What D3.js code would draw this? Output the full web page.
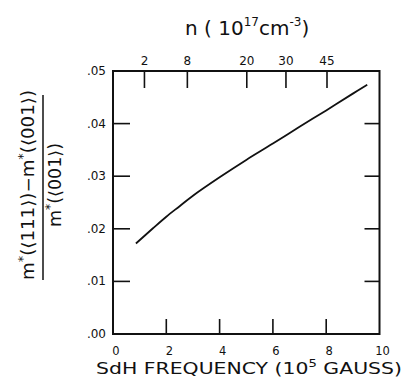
<!DOCTYPE html>
<html lang="en">
<head>
<meta charset="UTF-8">
<title>SdH frequency vs mass anisotropy</title>
<script src="https://cdnjs.cloudflare.com/ajax/libs/d3/7.8.5/d3.min.js"></script>
<style>
  body { margin: 0; background: #fff; }
  text { font-family: "DejaVu Sans", sans-serif; fill: #111; }
</style>
</head>
<body>
<script>
// curve: SdH frequency (10^5 gauss) -> mass ratio
var freq  = [0.86, 1.5, 2.0, 2.5, 3.0, 4.0, 5.0, 6.0, 7.0, 8.0, 9.0, 9.54];
var ratio = [0.0172, 0.0201, 0.0223, 0.0243, 0.0263, 0.0298, 0.0331, 0.0362, 0.0394, 0.0425, 0.0457, 0.0474];

var xTicks = [0, 2, 4, 6, 8, 10];
var yTicks = [0, 0.01, 0.02, 0.03, 0.04, 0.05];
// top axis: carrier density labels and where they sit in frequency units
var nLabels = ["2", "8", "20", "30", "45"];
var nFreq   = [1.18, 2.79, 5.02, 6.49, 8.03];

var W = 404, H = 391;
var svg = d3.select("body").append("svg").attr("width", W).attr("height", H);

var x = d3.scaleLinear().domain([0, 10]).range([113, 379.5]);
var y = d3.scaleLinear().domain([0, 0.05]).range([334, 71]);

var tick = 15;
var ink = "#111";

// frame
svg.append("rect")
  .attr("x", x(0)).attr("y", y(0.05))
  .attr("width", x(10) - x(0)).attr("height", y(0) - y(0.05))
  .attr("fill", "none").attr("stroke", ink).attr("stroke-width", 2);

// inner ticks
var inner = xTicks.filter(function(d){ return d > 0 && d < 10; });
svg.selectAll(".bt").data(inner).enter().append("line")
  .attr("x1", x).attr("x2", x)
  .attr("y1", y(0)).attr("y2", y(0) - tick)
  .attr("stroke", ink).attr("stroke-width", 1.6);

var yin = yTicks.filter(function(d){ return d > 0 && d < 0.05; });
svg.selectAll(".lt").data(yin).enter().append("line")
  .attr("x1", x(0)).attr("x2", x(0) + tick + 2)
  .attr("y1", y).attr("y2", y)
  .attr("stroke", ink).attr("stroke-width", 1.6);
svg.selectAll(".rt").data(yin).enter().append("line")
  .attr("x1", x(10)).attr("x2", x(10) - tick)
  .attr("y1", y).attr("y2", y)
  .attr("stroke", ink).attr("stroke-width", 1.6);

svg.selectAll(".tt").data(nFreq).enter().append("line")
  .attr("x1", x).attr("x2", x)
  .attr("y1", y(0.05)).attr("y2", y(0.05) + tick + 2)
  .attr("stroke", ink).attr("stroke-width", 1.6);

// tick labels
svg.selectAll(".yl").data(yTicks).enter().append("text")
  .attr("x", 106).attr("y", function(d){ return y(d) + 4; })
  .attr("text-anchor", "end").attr("font-size", 12)
  .text(function(d){ return d3.format(".2f")(d).replace(/^0/, ""); });

svg.selectAll(".xl").data(xTicks).enter().append("text")
  .attr("x", function(d){ return x(d) + 3; }).attr("y", 355)
  .attr("text-anchor", "middle").attr("font-size", 11.5)
  .text(function(d){ return d; });

svg.selectAll(".nl").data(nLabels).enter().append("text")
  .attr("x", function(d, i){ return x(nFreq[i]); }).attr("y", 65)
  .attr("text-anchor", "middle").attr("font-size", 12)
  .text(function(d){ return d; });

// curve
var line = d3.line()
  .x(function(d, i){ return x(freq[i]); })
  .y(function(d){ return y(d); })
  .curve(d3.curveCatmullRom);
svg.append("path").datum(ratio)
  .attr("d", line).attr("fill", "none")
  .attr("stroke", ink).attr("stroke-width", 1.8);

// bottom title
var bt = svg.append("text").attr("x", 96).attr("y", 374)
  .attr("font-size", 15.5).attr("textLength", 306).attr("lengthAdjust", "spacingAndGlyphs");
bt.append("tspan").text("SdH  FREQUENCY  (10");
bt.append("tspan").attr("dy", -7).attr("font-size", 10).text("5");
bt.append("tspan").attr("dy", 7).text(" GAUSS)");

// top title
var tt = svg.append("text").attr("x", 185).attr("y", 35).attr("font-size", 20);
tt.append("tspan").text("n ( 10");
tt.append("tspan").attr("dy", -9).attr("font-size", 12).text("17");
tt.append("tspan").attr("dy", 9).text("cm");
tt.append("tspan").attr("dy", -9).attr("font-size", 12).text("-3");
tt.append("tspan").attr("dy", 9).text(")");

// y title: rotated fraction
var g = svg.append("g").attr("transform", "translate(0,185) rotate(-90)");
var num = g.append("text").attr("x", 0).attr("y", 34)
  .attr("text-anchor", "middle").attr("font-size", 17)
  .attr("textLength", 190).attr("lengthAdjust", "spacingAndGlyphs");
num.append("tspan").text("m");
num.append("tspan").attr("dy", -7).attr("font-size", 12).text("*");
num.append("tspan").attr("dy", 7).text("(\u27e8111\u27e9)\u2212m");
num.append("tspan").attr("dy", -7).attr("font-size", 12).text("*");
num.append("tspan").attr("dy", 7).text("(\u27e8001\u27e9)");
g.append("line").attr("x1", -95).attr("x2", 90).attr("y1", 43).attr("y2", 43)
  .attr("stroke", ink).attr("stroke-width", 1.5);
var den = g.append("text").attr("x", 0).attr("y", 61)
  .attr("text-anchor", "middle").attr("font-size", 17)
  .attr("textLength", 84).attr("lengthAdjust", "spacingAndGlyphs");
den.append("tspan").text("m");
den.append("tspan").attr("dy", -7).attr("font-size", 12).text("*");
den.append("tspan").attr("dy", 7).text("(\u27e8001\u27e9)");
</script>
</body>
</html>
